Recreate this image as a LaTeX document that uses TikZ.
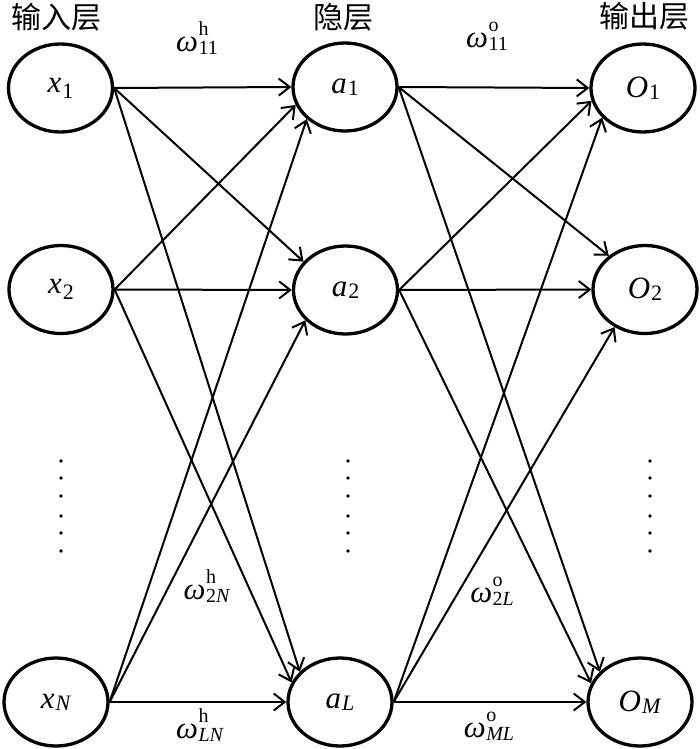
\documentclass[tikz,border=0pt]{standalone}
\usepackage{fontspec}
\setmainfont{Liberation Serif}
\newfontfamily\cjk{Noto Sans CJK SC}
\usetikzlibrary{shapes.geometric,arrows.meta}
\newcommand\scr{\fontsize{20}{20}\selectfont}
\newcommand\nscr{\fontsize{22}{22}\selectfont}
\newcommand\nsub[3]{\textit{#1}\kern1pt\raisebox{-#3}{\nscr #2}}
\newcommand\wsym[2]{\textit{ω}\kern0.5pt\makebox[0pt][l]{\raisebox{16pt}{\scr #1}}\raisebox{-3pt}{\scr #2}}
\tikzset{
  neuron/.style={ellipse, draw, line width=3.3pt, minimum width=104pt, minimum height=88pt, inner sep=0pt, font=\fontsize{31}{31}\selectfont},
  layertitle/.style={font=\cjk\fontsize{30}{30}\selectfont, inner sep=0pt},
  wlabel/.style={font=\fontsize{31}{31}\selectfont, inner sep=0pt},
  link/.style={line width=2pt, -{Straight Barb[length=11pt,width=17pt]}},
  dotmark/.style={circle, fill, inner sep=0pt, minimum size=3.8pt}
}
\begin{document}
\begin{tikzpicture}[x=1pt,y=-1pt]
\useasboundingbox (0,0) rectangle (700,749);
% layer titles
\node[layertitle] (tin)  at (57,17)  {输入层};
\node[layertitle] (thid) at (343,17) {隐层};
\node[layertitle] (tout) at (644,16) {输出层};
% neurons
\node[neuron] (x1) at (60.5,88)  {\nsub{x}{1}{6pt}};
\node[neuron] (x2) at (61,289.5) {\nsub{x}{2}{6pt}};
\node[neuron] (xN) at (56,702)   {\nsub{x}{\textit{N}}{2pt}};
\node[neuron] (a1) at (345,87)   {\nsub{a}{1}{2pt}};
\node[neuron] (a2) at (345.5,290) {\nsub{a}{2}{2pt}};
\node[neuron] (aL) at (340,702)  {\nsub{a}{\textit{L}}{2pt}};
\node[neuron] (O1) at (643,88)   {\nsub{O}{1}{2pt}};
\node[neuron] (O2) at (645,289.5) {\nsub{O}{2}{2pt}};
\node[neuron] (OM) at (640,702)  {\nsub{O}{\textit{M}}{2pt}};
% input -> hidden
\draw[link] (x1.east) -- (a1.180);
\draw[link] (x1.east) -- (a2.146);
\draw[link] (x1.east) -- (aL.143);
\draw[link] (x2.east) -- (a1.200);
\draw[link] (x2.east) -- (a2.180);
\draw[link] (x2.east) -- (aL.158);
\draw[link] (xN.east) -- (a1.220);
\draw[link] (xN.east) -- (a2.217);
\draw[link] (xN.east) -- (aL.180);
% hidden -> output
\draw[link] (a1.east) -- (O1.180);
\draw[link] (a1.east) -- (O2.137);
\draw[link] (a1.east) -- (OM.143);
\draw[link] (a2.east) -- (O1.194);
\draw[link] (a2.east) -- (O2.180);
\draw[link] (a2.east) -- (OM.159);
\draw[link] (aL.east) -- (O1.216);
\draw[link] (aL.east) -- (O2.231);
\draw[link] (aL.east) -- (OM.180);
% weight labels
\node[wlabel] (w11h) at (197,38)  {\wsym{h}{11}};
\node[wlabel] (w11o) at (487,36)  {\wsym{o}{11}};
\node[wlabel] (w2Nh) at (207,586) {\wsym{h}{2\textit{N}}};
\node[wlabel] (wLNh) at (200,725) {\wsym{h}{\textit{LN}}};
\node[wlabel] (w2Lo) at (492,591) {\wsym{o}{2\textit{L}}};
\node[wlabel] (wMLo) at (489,726) {\wsym{o}{\textit{ML}}};
% vertical ellipsis dots
\foreach \cx/\nm in {61/in,348/hid,650/out}{
  \foreach \cy [count=\k] in {461,478,496,516,533,551}{
    \node[dotmark] (d\nm\k) at (\cx,\cy) {};
  }
}
\end{tikzpicture}
\end{document}
